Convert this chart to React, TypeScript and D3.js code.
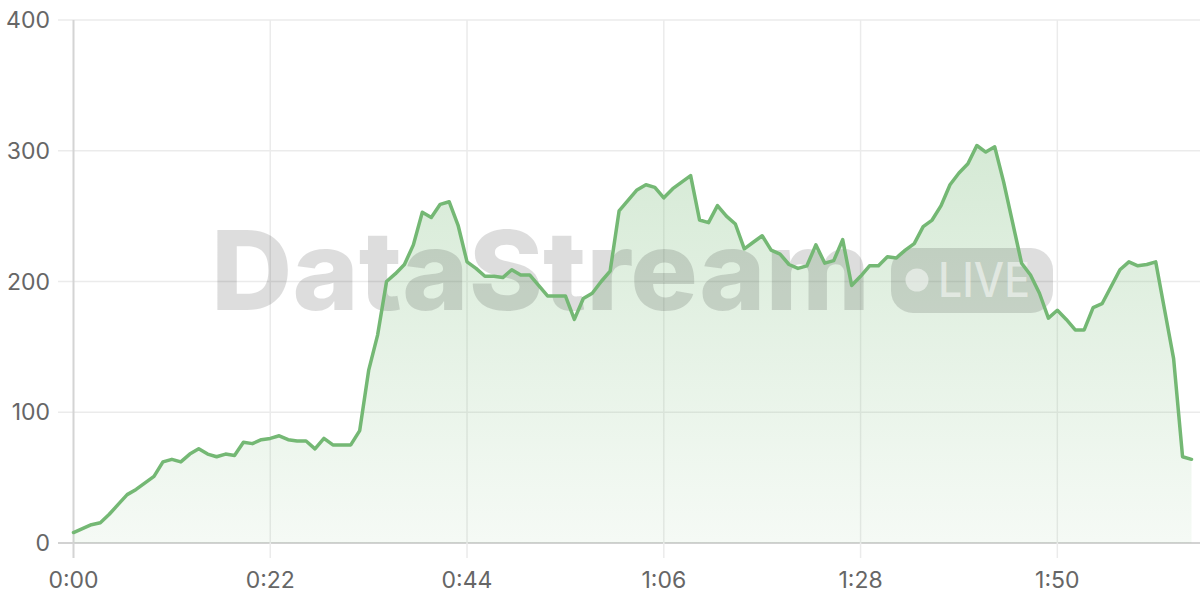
import React from 'react';
import * as d3 from 'd3';

// one sample per second, starting at 0:00
const values: number[] = [
  8, 11, 14, 15.5, 22, 29.5, 37, 41, 46, 51,
  62, 64, 62, 68, 72, 68, 66, 68, 67, 77,
  76, 79, 80, 82, 79, 78, 78, 72, 80, 75,
  75, 75, 86, 132, 159, 200, 206, 213, 228, 253,
  249, 259, 261, 243, 215, 210, 204, 204, 203, 209,
  205, 205, 197, 189, 189, 189, 171, 187, 191, 200,
  208, 254, 262, 270, 274, 272, 264, 271, 276, 281,
  247, 245, 258, 250, 244, 225, 230, 235, 224, 221,
  213, 210, 212, 228, 214, 216, 232, 197, 204, 212,
  212, 219, 218, 224, 229, 242, 247, 258, 274, 283,
  290, 304, 299, 303, 276, 245, 214, 205, 191, 172,
  178, 171, 163, 163, 180, 183, 196, 209, 215, 212,
  213, 215, 178, 141, 66, 64,
];
const yTicks: number[] = [0, 100, 200, 300, 400];
const xTickSeconds: number[] = [0, 22, 44, 66, 88, 110];
const watermarkTitle = 'DataStream';
const watermarkBadge = 'LIVE';

const fmt = (s: number) => `${Math.floor(s / 60)}:${String(s % 60).padStart(2, '0')}`;

export default function App() {
  const W = 1200;
  const H = 600;
  const x = d3.scaleLinear().domain([0, values.length - 1]).range([73.5, 1191.5]);
  const y = d3.scaleLinear().domain([0, 400]).range([543, 20]);
  const data = values.map((v, i) => ({ t: i, v }));
  const line = d3.line<{ t: number; v: number }>().x(d => x(d.t)).y(d => y(d.v));
  const area = d3
    .area<{ t: number; v: number }>()
    .x(d => x(d.t))
    .y0(y(0))
    .y1(d => y(d.v));
  const font = 'Inter, "Noto Sans", sans-serif';
  const green = '#74b874';

  return (
    <div style={{ position: 'absolute', left: 0, top: 0, width: W, height: H }}>
      <svg width={W} height={H} style={{ display: 'block' }}>
        <defs>
          <linearGradient id="fillGrad" x1="0" y1="0" x2="0" y2="1">
            <stop offset="0%" stopColor={green} stopOpacity={0.3} />
            <stop offset="100%" stopColor={green} stopOpacity={0.07} />
          </linearGradient>
        </defs>
        <rect x={0} y={0} width={W} height={H} fill="#fff" />
        {/* horizontal grid */}
        {yTicks.map(v => (
          <line key={'h' + v} x1={58} x2={W} y1={y(v)} y2={y(v)} stroke={v === 0 ? '#d2d2d2' : '#ebebeb'} strokeWidth={v === 0 ? 2 : 1.5} />
        ))}
        {/* vertical grid */}
        {xTickSeconds.map(s => (
          <line key={'v' + s} x1={x(s)} x2={x(s)} y1={20} y2={558} stroke={s === 0 ? '#d4d4d4' : '#ebebeb'} strokeWidth={s === 0 ? 2 : 1.5} />
        ))}
        <path d={area(data) || ''} fill="url(#fillGrad)" />
        {/* watermark */}
        <g>
          <text x={211} y={310} fontFamily={font} fontWeight={800} fontSize={110} fill="rgba(0,0,0,0.135)" textLength={659} lengthAdjust="spacingAndGlyphs">
            {watermarkTitle}
          </text>
          <rect x={891} y={248} width={162} height={65} rx={22} fill="rgba(0,0,0,0.13)" />
          <circle cx={917} cy={280} r={11.5} fill="rgba(255,255,255,0.5)" />
          <text x={938} y={297} fontFamily={font} fontWeight={500} fontSize={48} fill="rgba(255,255,255,0.5)" textLength={92} lengthAdjust="spacingAndGlyphs">
            {watermarkBadge}
          </text>
        </g>
        <path d={line(data) || ''} fill="none" stroke={green} strokeWidth={3.5} strokeLinejoin="round" strokeLinecap="round" />
        {/* y labels */}
        {yTicks.map(v => (
          <text key={'yl' + v} x={50} y={y(v)} dy="0.35em" textAnchor="end" fontFamily={font} fontSize={23} fill="#666">
            {v}
          </text>
        ))}
        {xTickSeconds.map(s => (
          <text key={'xl' + s} x={x(s)} y={588} textAnchor="middle" fontFamily={font} fontSize={23} fill="#666">
            {fmt(s)}
          </text>
        ))}
      </svg>
    </div>
  );
}
